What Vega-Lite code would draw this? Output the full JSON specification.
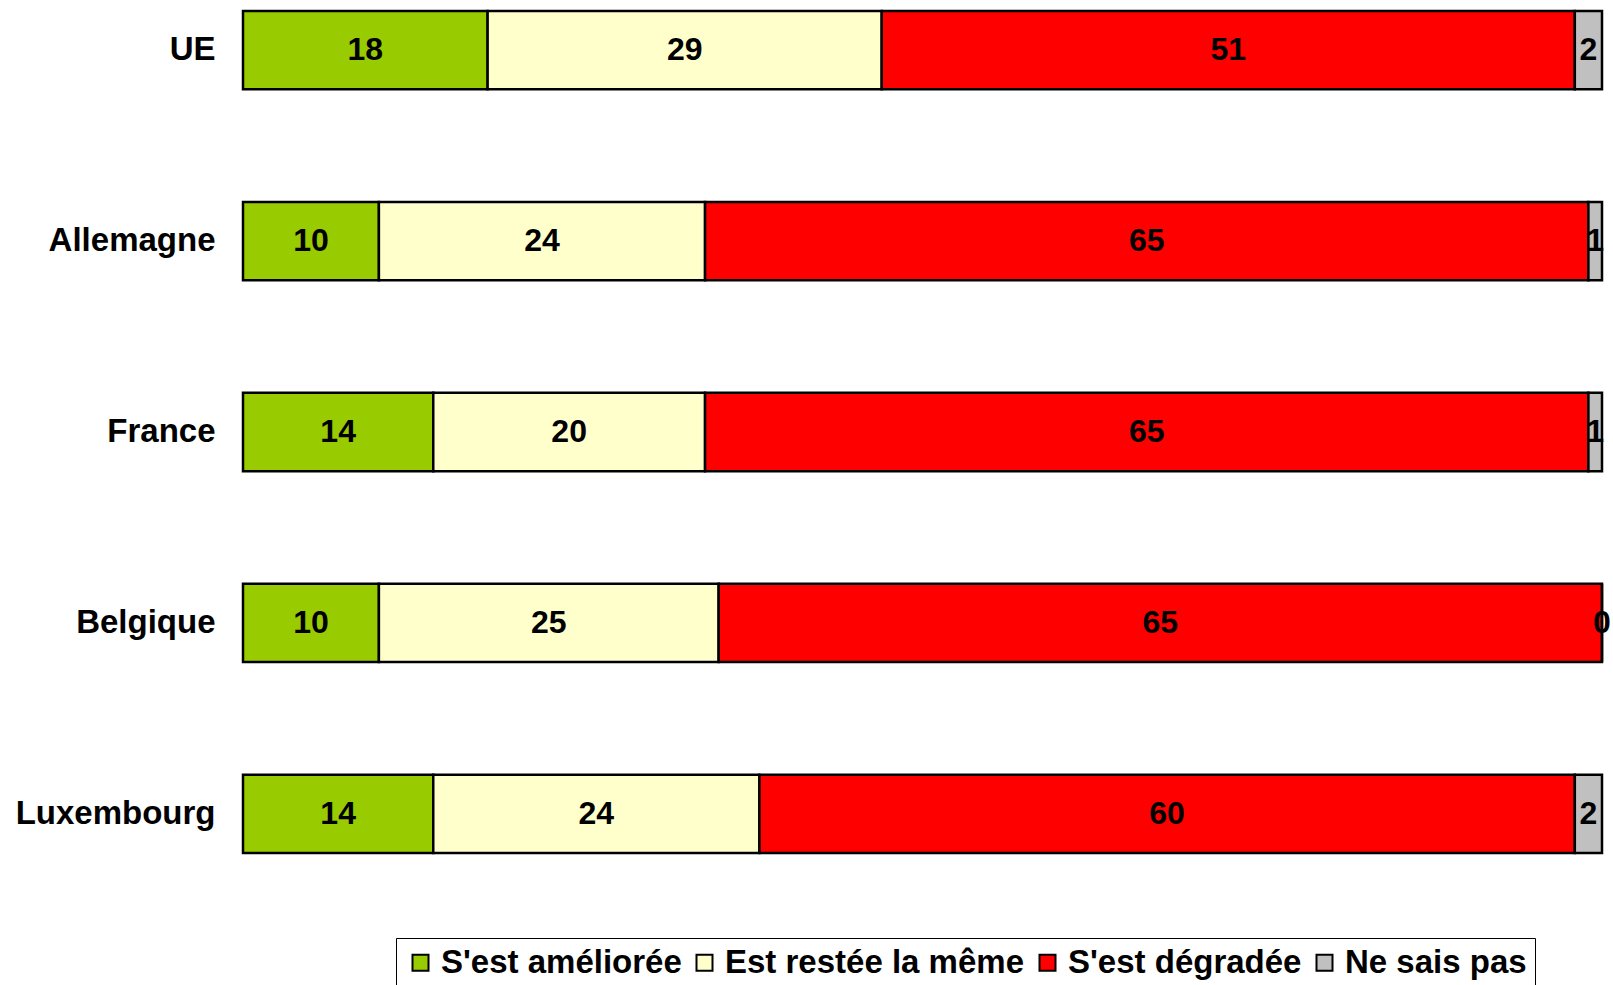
{
  "$schema": "https://vega.github.io/schema/vega-lite/v6.json",
  "autosize": {"type": "none"},
  "width": 1359,
  "height": 842,
  "padding": {"left": 243, "top": 11, "right": 11, "bottom": 132},
  "background": "white",
  "config": {
    "view": {"stroke": null},
    "font": "Liberation Sans"
  },
  "data": {
    "values": [
      {"pays": "UE", "reponse": "S'est améliorée", "ordre": 1, "valeur": 18},
      {"pays": "UE", "reponse": "Est restée la même", "ordre": 2, "valeur": 29},
      {"pays": "UE", "reponse": "S'est dégradée", "ordre": 3, "valeur": 51},
      {"pays": "UE", "reponse": "Ne sais pas", "ordre": 4, "valeur": 2},
      {"pays": "Allemagne", "reponse": "S'est améliorée", "ordre": 1, "valeur": 10},
      {"pays": "Allemagne", "reponse": "Est restée la même", "ordre": 2, "valeur": 24},
      {"pays": "Allemagne", "reponse": "S'est dégradée", "ordre": 3, "valeur": 65},
      {"pays": "Allemagne", "reponse": "Ne sais pas", "ordre": 4, "valeur": 1},
      {"pays": "France", "reponse": "S'est améliorée", "ordre": 1, "valeur": 14},
      {"pays": "France", "reponse": "Est restée la même", "ordre": 2, "valeur": 20},
      {"pays": "France", "reponse": "S'est dégradée", "ordre": 3, "valeur": 65},
      {"pays": "France", "reponse": "Ne sais pas", "ordre": 4, "valeur": 1},
      {"pays": "Belgique", "reponse": "S'est améliorée", "ordre": 1, "valeur": 10},
      {"pays": "Belgique", "reponse": "Est restée la même", "ordre": 2, "valeur": 25},
      {"pays": "Belgique", "reponse": "S'est dégradée", "ordre": 3, "valeur": 65},
      {"pays": "Belgique", "reponse": "Ne sais pas", "ordre": 4, "valeur": 0},
      {"pays": "Luxembourg", "reponse": "S'est améliorée", "ordre": 1, "valeur": 14},
      {"pays": "Luxembourg", "reponse": "Est restée la même", "ordre": 2, "valeur": 24},
      {"pays": "Luxembourg", "reponse": "S'est dégradée", "ordre": 3, "valeur": 60},
      {"pays": "Luxembourg", "reponse": "Ne sais pas", "ordre": 4, "valeur": 2}
    ]
  },
  "transform": [
    {"stack": "valeur", "groupby": ["pays"], "sort": [{"field": "ordre", "order": "ascending"}], "as": ["x0", "x1"]}
  ],
  "encoding": {
    "y": {
      "field": "pays",
      "type": "nominal",
      "sort": ["UE", "Allemagne", "France", "Belgique", "Luxembourg"],
      "scale": {"paddingInner": 0.59, "paddingOuter": 0},
      "axis": {
        "title": null,
        "ticks": false,
        "domain": false,
        "labelPadding": 28,
        "labelFontSize": 33,
        "labelFontWeight": "bold",
        "labelColor": "black",
        "labelFont": "Liberation Sans",
        "labelLimit": 400
      }
    }
  },
  "layer": [
    {
      "mark": {"type": "bar", "stroke": "black", "strokeWidth": 2.5},
      "encoding": {
        "x": {
          "field": "x0",
          "type": "quantitative",
          "scale": {"domain": [0, 100], "nice": false, "zero": true},
          "axis": null
        },
        "x2": {"field": "x1"},
        "color": {
          "field": "reponse",
          "type": "nominal",
          "scale": {
            "domain": ["S'est améliorée", "Est restée la même", "S'est dégradée", "Ne sais pas"],
            "range": ["#99CC00", "#FFFFCC", "#FF0000", "#C0C0C0"]
          },
          "legend": {
            "title": null,
            "orient": "none",
            "direction": "horizontal",
            "legendX": 153,
            "legendY": 927,
            "strokeColor": "black",
            "padding": 8,
            "symbolType": "square",
            "symbolSize": 256,
            "symbolStrokeColor": "black",
            "symbolStrokeWidth": 2,
            "labelFontSize": 33,
            "labelFontWeight": "bold",
            "labelColor": "black",
            "labelFont": "Liberation Sans",
            "labelOffset": 4,
            "labelLimit": 400,
            "columnPadding": 6
          }
        }
      }
    },
    {
      "transform": [
        {"fold": ["x0", "x1"], "as": ["bord", "pos"]},
        {"aggregate": [{"op": "mean", "field": "pos", "as": "milieu"}], "groupby": ["pays", "reponse", "valeur"]}
      ],
      "mark": {"type": "text", "fontSize": 32, "fontWeight": "bold", "color": "black", "align": "center", "baseline": "middle"},
      "encoding": {
        "x": {
          "field": "milieu",
          "type": "quantitative",
          "scale": {"domain": [0, 100], "nice": false, "zero": true},
          "axis": null
        },
        "text": {"field": "valeur", "type": "quantitative"}
      }
    }
  ]
}
